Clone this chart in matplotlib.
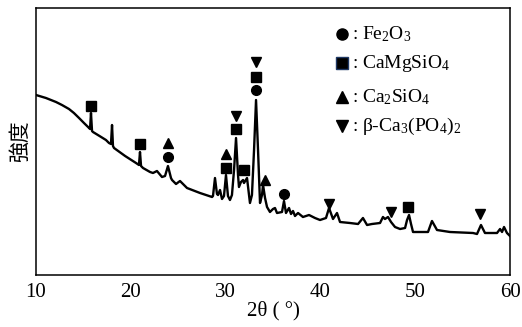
import matplotlib
matplotlib.use("Agg")
import matplotlib.pyplot as plt

# XRD pattern (2theta in degrees, intensity in arbitrary units)
two_theta = [10.00, 11.05, 12.11, 12.74, 13.48, 14.00, 14.54, 15.06, 15.49, 15.70,
             15.80, 15.91, 16.01, 16.70, 17.38,
             17.70, 17.91, 18.02, 18.12, 18.23, 19.40, 20.55, 20.86, 20.97, 21.08, 21.29,
             22.03, 22.34, 22.76, 23.29, 23.61, 23.92, 24.24, 24.35, 24.77, 25.19,
             25.93, 27.30, 28.57, 28.67, 28.88, 29.09, 29.20, 29.41, 29.62, 29.83,
             30.04, 30.25, 30.46, 30.67, 30.89, 31.10, 31.31, 31.41, 31.62, 31.84,
             31.94, 32.26, 32.47, 32.57, 32.78, 33.00, 33.21, 33.42, 33.63, 33.84,
             33.95, 34.16, 34.37, 34.68, 35.00, 35.21, 35.42, 35.95, 36.16, 36.37,
             36.69, 36.90, 37.11, 37.32, 37.64, 38.16, 38.80, 39.43, 39.96, 40.59,
             40.91, 41.33, 41.75, 42.07, 43.12, 43.97, 44.49, 44.92, 45.44, 46.29,
             46.60, 46.81, 47.13, 47.45, 47.87, 48.40, 48.93, 49.14, 49.35, 49.56,
             49.77, 51.35, 51.77, 52.30, 53.67, 56.10, 56.52, 56.94, 57.36, 58.63,
             58.95, 59.16, 59.37, 59.68, 60.00]
intensity = [180, 177, 173, 170, 166, 162, 157, 152, 148, 146,
             162, 144, 143, 139, 135,
             132, 131, 150, 129, 127, 119, 112, 110, 123, 109, 107,
             103, 102, 104, 98, 99, 109, 97, 95, 91, 94,
             87, 82, 78, 79, 97, 81, 80, 85, 76, 79,
             100, 79, 75, 80, 105, 137, 100, 88, 93, 95,
             92, 97, 80, 72, 80, 125, 175, 125, 72, 80,
             90, 77, 68, 63, 66, 67, 62, 63, 74, 62,
             67, 61, 64, 59, 62, 58, 60, 57, 55, 57,
             67, 56, 62, 53, 52, 51, 57, 50, 51, 52,
             58, 56, 58, 53, 48, 46, 47, 55, 60, 51,
             43, 43, 54, 45, 43, 42, 41, 50, 42, 42,
             46, 43, 48, 42, 39]

# phase markers above the peaks
fe2o3_x = [23.92, 33.21, 36.16]
fe2o3_y = [118, 185, 81]
camgsio4_x = [15.80, 20.97, 30.04, 31.10, 31.94, 33.21, 49.24]
camgsio4_y = [169, 131, 107, 146, 105, 198, 68]
ca2sio4_x = [23.92, 30.04, 34.16]
ca2sio4_y = [132, 121, 95]
tcp_x = [31.10, 33.21, 40.91, 47.45, 56.84]
tcp_y = [159, 213, 71, 63, 61]

x_ticks = [10, 20, 30, 40, 50, 60]

serif = "Liberation Serif"
plt.rcParams["mathtext.fontset"] = "custom"
plt.rcParams["mathtext.rm"] = serif

fig = plt.figure(figsize=(5.22, 3.27), dpi=100)
ax = fig.add_axes([36 / 522, 52 / 327, 474 / 522, 267 / 327])

ax.plot(two_theta, intensity, color="black", lw=1.7, solid_joinstyle="round")

mk = dict(color="black", linestyle="none")
ax.plot(fe2o3_x, fe2o3_y, marker="o", ms=7, **mk)
ax.plot(camgsio4_x, camgsio4_y, marker="s", ms=6.5, **mk)
ax.plot(ca2sio4_x, ca2sio4_y, marker="^", ms=7.5, **mk)
ax.plot(tcp_x, tcp_y, marker="v", ms=7.5, **mk)

# legend drawn by hand, like the original
leg_x = 42.28
leg_items = [("o", 241, r"$\mathrm{: Fe_2O_3}$", "black"),
             ("s", 212, r"$\mathrm{: CaMgSiO_4}$", "#1f3864"),
             ("^", 178, r"$\mathrm{: Ca_2SiO_4}$", "black"),
             ("v", 149, r"$\mathrm{: \beta\text{-}Ca_3(PO_4)_2}$", "black")]
for m, yy, label, ec in leg_items:
    ax.plot([leg_x], [yy], marker=m, ms=8, color="black", mec=ec, linestyle="none")
    ax.text(leg_x + 0.75, yy, label, fontsize=14, va="center", ha="left")

ax.set_xlim(10, 60)
ax.set_ylim(0, 267)
ax.set_xticks(x_ticks)
ax.set_xticklabels([str(t) for t in x_ticks], family=serif, fontsize=15)
ax.set_yticks([])
ax.tick_params(axis="x", length=0, pad=6)
for s in ax.spines.values():
    s.set_linewidth(1.1)

ax.set_xlabel("2θ ( °)", family=serif, fontsize=15, labelpad=-1)
ax.set_ylabel("強度", family=["Noto Sans CJK JP", "DejaVu Sans"], fontsize=15, labelpad=4)

fig.savefig("out.png", dpi=100)
